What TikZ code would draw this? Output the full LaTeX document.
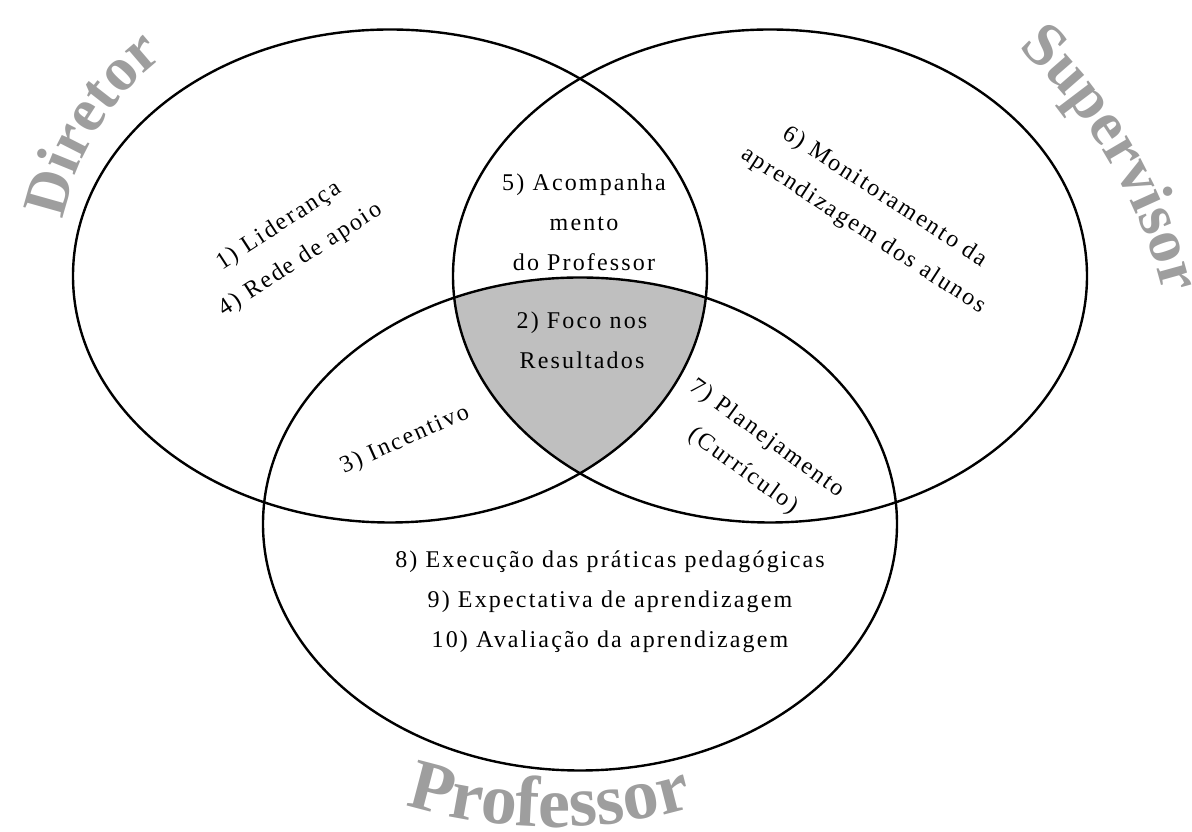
\documentclass[tikz,border=0pt]{standalone}
\usepackage{fontspec}
\setmainfont{Liberation Serif}
\newfontfamily\bodyfont{Liberation Serif}[LetterSpace=9]
\usetikzlibrary{decorations.text}
\definecolor{ShadeGray}{RGB}{191,191,191}
\definecolor{WordGray}{RGB}{158,158,158}
\newcommand{\bigword}{\fontsize{62}{62}\selectfont\bfseries\color{WordGray}}
\newcommand{\bigwordb}{\fontsize{72}{72}\selectfont\bfseries\color{WordGray}}

\tikzset{
  ring/.style={line width=2.4pt},
  vtext/.style={font=\bodyfont\fontsize{24}{40}\selectfont, align=center, inner sep=0pt},
  arcword/.style={decorate, decoration={text along path, text align=left}},
}

\begin{document}
\begin{tikzpicture}[x=1pt, y=1pt]
    \useasboundingbox (0,0) rectangle (1192,832);

    % Centres of the three sets
    \coordinate (dir) at (390,556);
    \coordinate (sup) at (770,556);
    \coordinate (prof) at (580,308);

    % Shaded middle part
    \begin{scope}
      \clip (dir) ellipse [x radius=317pt, y radius=246.5pt];
      \clip (sup) ellipse [x radius=317pt, y radius=246.5pt];
      \fill[ShadeGray] (prof) ellipse [x radius=317pt, y radius=246.5pt];
    \end{scope}

    % Ellipses
    \foreach \c in {dir,sup,prof} {
      \draw[ring] (\c) ellipse [x radius=317pt, y radius=246.5pt];
    }

    % Texts inside
    \node[vtext, rotate=33] (lider) at (290,589) {1) Liderança\\4) Rede de apoio};
    \node[vtext, rotate=24] (incent) at (405,392) {3) Incentivo};
    \node[vtext] (acomp) at (584,610) {5) Acompanha\\mento\\do Professor};
    \node[vtext] (foco) at (582,492) {2) Foco nos\\Resultados};
    \node[vtext, rotate=-33] (monit) at (874,618) {6) Monitoramento da\\aprendizagem dos alunos};
    \node[vtext, rotate=-36] (plan) at (755,377) {7) Planejamento\\(Currículo)};
    \node[vtext] (exec) at (610,230) {8) Execução das práticas pedagógicas\\9) Expectativa de aprendizagem\\10) Avaliação da aprendizagem};

    % Curved titles
    \coordinate (dirc) at (330,560);
    \path[arcword, decoration={text={|\bigword|Diretor}}]
      ([shift={(169:272pt)}]dirc) arc [start angle=169, end angle=100, radius=272pt];
    \coordinate (supc) at (677,418);
    \path[arcword, decoration={text={|\bigword|Supervisor}}]
      ([shift={(47:501pt)}]supc) arc [start angle=47, end angle=0, radius=501pt];
    \coordinate (profc) at (553,505);
    \path[arcword, decoration={text={|\bigwordb|Professor}}]
      ([shift={(252.8:500pt)}]profc) arc [start angle=252.8, end angle=300, radius=500pt];
\end{tikzpicture}
\end{document}
